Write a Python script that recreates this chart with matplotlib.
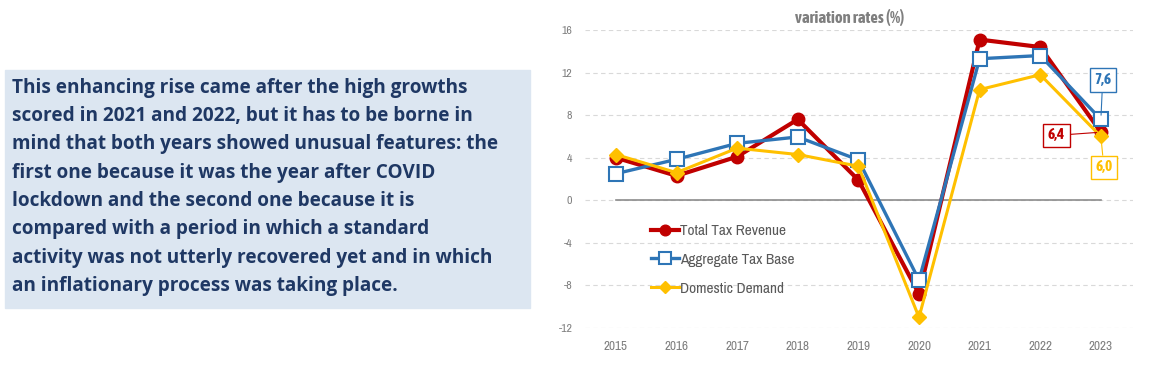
import matplotlib
matplotlib.use("Agg")
import matplotlib.pyplot as plt

years = [2015, 2016, 2017, 2018, 2019, 2020, 2021, 2022, 2023]
total_tax_revenue = [4.0, 2.3, 4.1, 7.6, 1.9, -8.8, 15.1, 14.4, 6.4]
aggregate_tax_base = [2.5, 3.85, 5.35, 5.95, 3.8, -7.5, 13.3, 13.6, 7.6]
domestic_demand = [4.3, 2.6, 4.9, 4.3, 3.2, -11.0, 10.4, 11.8, 6.0]
y_ticks = [-12, -8, -4, 0, 4, 8, 12, 16]

note = ("This enhancing rise came after the high growths\n"
        "scored in 2021 and 2022, but it has to be borne in\n"
        "mind that both years showed unusual features: the\n"
        "first one because it was the year after COVID\n"
        "lockdown and the second one because it is\n"
        "compared with a period in which a standard\n"
        "activity was not utterly recovered yet and in which\n"
        "an inflationary process was taking place.")

narrow = ["Archivo Narrow", "Liberation Sans", "DejaVu Sans"]
narrow_bold = ["Asap Condensed", "Barlow Condensed", "Liberation Sans", "DejaVu Sans"]

red = "#C00000"
blue = "#2E75B6"
yellow = "#FFC000"
gray = "#7F7F7F"

W, H = 1150, 380
fig = plt.figure(figsize=(W / 100, H / 100), dpi=100)

# text panel on the left
fig.patches.append(plt.Rectangle((5 / W, 1 - 308 / H), 525 / W, 238 / H,
                                 transform=fig.transFigure, color="#DCE6F1", zorder=0))
fig.text(12 / W, 1 - 78 / H, note, ha="left", va="top", fontsize=13.7,
         fontweight="bold", color="#1F3864", family=["Open Sans", "DejaVu Sans"],
         linespacing=1.55)

ax = fig.add_axes([585 / W, 1 - 328 / H, 548 / W, 298 / H])
ax.set_xlim(2014.49, 2023.53)
ax.set_ylim(-12, 16)
for s in ax.spines.values():
    s.set_visible(False)
ax.set_yticks(y_ticks)
ax.set_yticklabels([str(v) for v in y_ticks], family=narrow, fontsize=8.5, color=gray)
ax.set_xticks(years)
ax.set_xticklabels([str(y) for y in years], family=narrow, fontsize=9.5, color=gray)
ax.tick_params(length=0, pad=9)
ax.tick_params(axis="x", pad=9)
ax.grid(axis="y", color="#D9D9D9", linestyle=(0, (4, 3)), linewidth=0.8)
ax.set_axisbelow(True)
ax.plot([years[0], years[-1]], [0, 0], color="#8C8C8C", linewidth=1.2, zorder=1)

ax.plot(years, total_tax_revenue, color=red, linewidth=3, marker="o", markersize=9,
        label="Total Tax Revenue", zorder=3)
ax.plot(years, aggregate_tax_base, color=blue, linewidth=2.4, marker="s", markersize=9.5,
        markerfacecolor="white", markeredgecolor=blue, markeredgewidth=1.5,
        label="Aggregate Tax Base", zorder=4)
ax.plot(years, domestic_demand, color=yellow, linewidth=2.2, marker="D", markersize=7.5,
        label="Domestic Demand", zorder=5)

fig.text(850 / W, 1 - 17 / H, "variation rates (%)", ha="center", va="center",
         fontsize=12, fontweight="bold", color=gray, family=narrow_bold)

leg = ax.legend(loc="upper left", bbox_to_anchor=(651 / W, 1 - 224 / H),
                bbox_transform=fig.transFigure, frameon=False, fontsize=11,
                handlelength=1.8, handletextpad=0.1, labelspacing=0.97,
                borderpad=0, borderaxespad=0, markerscale=0.85)
for t in leg.get_texts():
    t.set_color("#595959")
    t.set_family(narrow)

last = years[-1]
labels = [
    (aggregate_tax_base[-1], blue, (last + 0.03, 11.3)),
    (total_tax_revenue[-1], red, (last - 0.73, 6.1)),
    (domestic_demand[-1], yellow, (last + 0.05, 3.1)),
]
for val, c, pos in labels:
    ax.annotate(f"{val:.1f}".replace(".", ","), xy=(last, val), xytext=pos,
                ha="center", va="center", fontsize=11, fontweight="bold", color=c,
                family=narrow_bold, zorder=6,
                bbox=dict(boxstyle="square,pad=0.3", fc="white", ec=c, lw=1),
                arrowprops=dict(arrowstyle="-", color=c, lw=0.8, shrinkA=0, shrinkB=3))

fig.savefig("out.png", dpi=100)
